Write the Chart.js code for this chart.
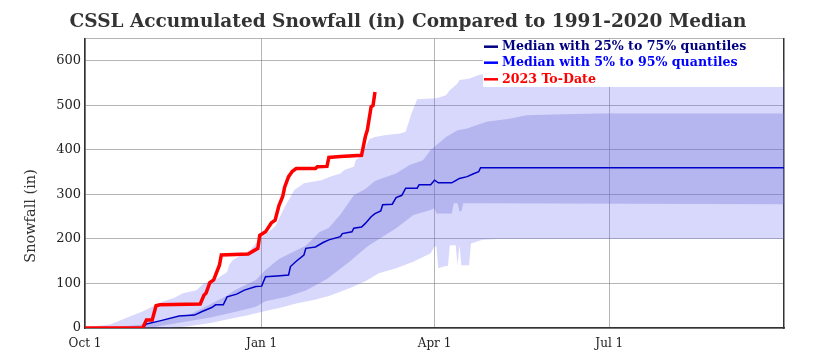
<!DOCTYPE html>
<html><head><meta charset="utf-8">
<script src="https://cdn.jsdelivr.net/npm/chart.js@4.4.1/dist/chart.umd.min.js"></script>
<style>html,body{margin:0;padding:0;background:#fff}#wrap{width:816px;height:351px}</style>
</head><body><div id="wrap"><canvas id="c" width="816" height="351"></canvas></div>
<script>
const titleText = 'CSSL Accumulated Snowfall (in) Compared to 1991-2020 Median';
const yAxisTitle = 'Snowfall (in)';
const xTickDays = [0, 92, 182, 273];
const xTickLabels = ['Oct 1', 'Jan 1', 'Apr 1', 'Jul 1'];
const yTickValues = [0, 100, 200, 300, 400, 500, 600];
const legendLabels = ['Median with 25% to 75% quantiles', 'Median with 5% to 95% quantiles', '2023 To-Date'];
const legendColors = ['#000080', '#0000ff', '#ff0000'];

// days since Oct 1
const redDays   = [0,30,32,35,37,39,60,62,63,65,67,70,71,85,90,91,94,97,99,101,103,104,106,108,110,120,121,126,127,133,144,146,147,149,150,151];
const redValues = [0,0,18,18,50,52,54,74,78,102,108,141,164,166,179,208,216,236,242,275,296,317,340,352,358,358,362,363,383,385,388,430,444,497,500,530];

const medianDays   = [0,30,32,39,49,57,61,66,68,72,74,79,83,89,92,94,100,106,107,110,114,115,120,124,127,133,134,139,140,144,146,149,151,154,155,160,162,165,167,173,174,180,182,184,191,193,195,199,202,205,206,364];
const medianValues = [0,0,9,16,27,29,37,46,52,52,70,76,85,93,94,115,117,119,138,150,164,179,182,192,198,205,212,216,224,227,235,250,257,263,277,278,293,298,314,314,322,322,332,326,326,331,336,340,346,351,360,360];

const p95Days   = [0,5,13,23,30,37,40,46,51,58,61,64,69,74,75,77,80,86,91,99,104,109,114,123,128,133,135,140,141,144,148,151,156,164,167,170,173,183,188,190,194,195,200,205,215,364];
const p95Values = [0,4,8,25,37,52,59,67,78,85,97,104,112,126,141,153,160,175,200,228,272,310,325,332,340,347,355,362,377,388,424,429,433,437,441,482,514,516,523,534,549,557,560,568,575,578];

const p75Days   = [0,10,20,30,38,45,54,61,66,73,78,89,94,101,108,115,122,127,133,140,146,151,156,162,169,176,180,188,194,199,209,221,230,249,268,364];
const p75Values = [0,1,4,8,14,22,29,44,55,70,85,108,130,155,170,185,215,225,255,298,312,330,338,347,366,377,400,429,444,448,463,470,478,480,482,482];

const p25Days   = [0,30,37,49,66,79,89,94,105,115,126,138,147,155,162,171,180,182,183,191,192,194,195,196,197,207,364];
const p25Values = [0,0,3,12,24,37,48,60,70,84,110,150,183,205,224,254,265,269,257,257,280,280,262,262,280,280,278];

const p5Days   = [0,44,54,66,75,84,94,101,110,119,127,138,146,153,162,171,180,182,183,184,187,189,190,193,194,195,196,200,201,207,215,364];
const p5Values = [0,0,4,12,20,28,38,45,55,63,72,90,105,123,134,149,168,183,183,134,138,140,186,186,141,186,141,141,190,198,200,200];

const pts = (d, v) => d.map((x, i) => ({x: x, y: v[i]}));
const SERIF = 'DejaVu Serif';
const gridColor = 'rgba(120,120,120,0.55)';

const overlayPlugin = {
  id: 'overlay',
  afterDraw(chart) {
    const ctx = chart.ctx;
    const a = chart.chartArea;
    ctx.save();
    ctx.translate(31, 216);
    ctx.rotate(-Math.PI / 2);
    ctx.font = '14.5px "' + SERIF + '"';
    ctx.fillStyle = '#333';
    ctx.textAlign = 'center';
    ctx.textBaseline = 'middle';
    ctx.fillText(yAxisTitle, 0, 0);
    ctx.restore();
    ctx.save();
    const bx = 483, by = a.top + 1, bw = a.right - 1 - bx, bh = 87 - by;
    ctx.fillStyle = '#ffffff';
    ctx.fillRect(bx, by, bw, bh);
    ctx.font = 'bold 12.6px "' + SERIF + '"';
    ctx.textBaseline = 'middle';
    ctx.textAlign = 'left';
    const rows = [46.7, 62.7, 79.3];
    legendLabels.forEach((t, i) => {
      ctx.strokeStyle = legendColors[i];
      ctx.lineWidth = 2.5;
      ctx.beginPath();
      ctx.moveTo(484, rows[i]);
      ctx.lineTo(498, rows[i]);
      ctx.stroke();
      ctx.fillStyle = legendColors[i];
      ctx.fillText(t, 502, rows[i]);
    });
    ctx.restore();
  }
};

new Chart(document.getElementById('c'), {
  type: 'line',
  data: {
    datasets: [
      {label: legendLabels[2], data: pts(redDays, redValues), borderColor: '#ff0000', borderWidth: 3.5, pointRadius: 0, fill: false},
      {label: 'Median', data: pts(medianDays, medianValues), borderColor: '#0000c8', borderWidth: 1.5, pointRadius: 0, fill: false},
      {label: '75%', data: pts(p75Days, p75Values), borderColor: 'rgba(0,0,0,0)', borderWidth: 0, pointRadius: 0, fill: '+1', backgroundColor: 'rgba(110,110,210,0.32)'},
      {label: '25%', data: pts(p25Days, p25Values), borderColor: 'rgba(0,0,0,0)', borderWidth: 0, pointRadius: 0, fill: false},
      {label: '95%', data: pts(p95Days, p95Values), borderColor: 'rgba(0,0,0,0)', borderWidth: 0, pointRadius: 0, fill: '+1', backgroundColor: 'rgba(100,100,245,0.25)'},
      {label: '5%', data: pts(p5Days, p5Values), borderColor: 'rgba(0,0,0,0)', borderWidth: 0, pointRadius: 0, fill: false}
    ]
  },
  options: {
    responsive: false,
    animation: false,
    devicePixelRatio: 1,
    layout: {padding: 0},
    plugins: {
      legend: {display: false},
      tooltip: {enabled: false},
      title: {display: true, text: titleText, color: '#333', font: {family: SERIF, size: 18.5, weight: 'bold'}, padding: {top: 11, bottom: 5.4}}
    },
    scales: {
      x: {
        type: 'linear', min: 0, max: 364,
        afterBuildTicks: s => { s.ticks = xTickDays.map(v => ({value: v})); },
        ticks: {callback: v => xTickLabels[xTickDays.indexOf(v)], font: {family: SERIF, size: 12}, color: '#222', padding: 9, maxRotation: 0, autoSkip: false},
        grid: {color: gridColor, drawTicks: false, lineWidth: 1},
        border: {color: '#333', width: 1.5},
        afterFit: s => { s.height = 23; }
      },
      y: {
        min: 0, max: 650,
        afterBuildTicks: s => { s.ticks = yTickValues.concat([650]).map(v => ({value: v})); },
        ticks: {callback: v => yTickValues.includes(v) ? String(v) : '', font: {family: SERIF, size: 13}, color: '#222', padding: 4},
        grid: {color: gridColor, drawTicks: false, lineWidth: 1},
        border: {color: '#333', width: 1.5},
        afterFit: s => { s.width = 85; }
      },
      y2: {
        position: 'right', min: 0, max: 650, display: true,
        ticks: {display: false},
        grid: {display: false, drawTicks: false},
        border: {color: '#333', width: 1.5},
        afterFit: s => { s.width = 32; }
      }
    }
  },
  plugins: [overlayPlugin]
});
</script>
</body></html>
